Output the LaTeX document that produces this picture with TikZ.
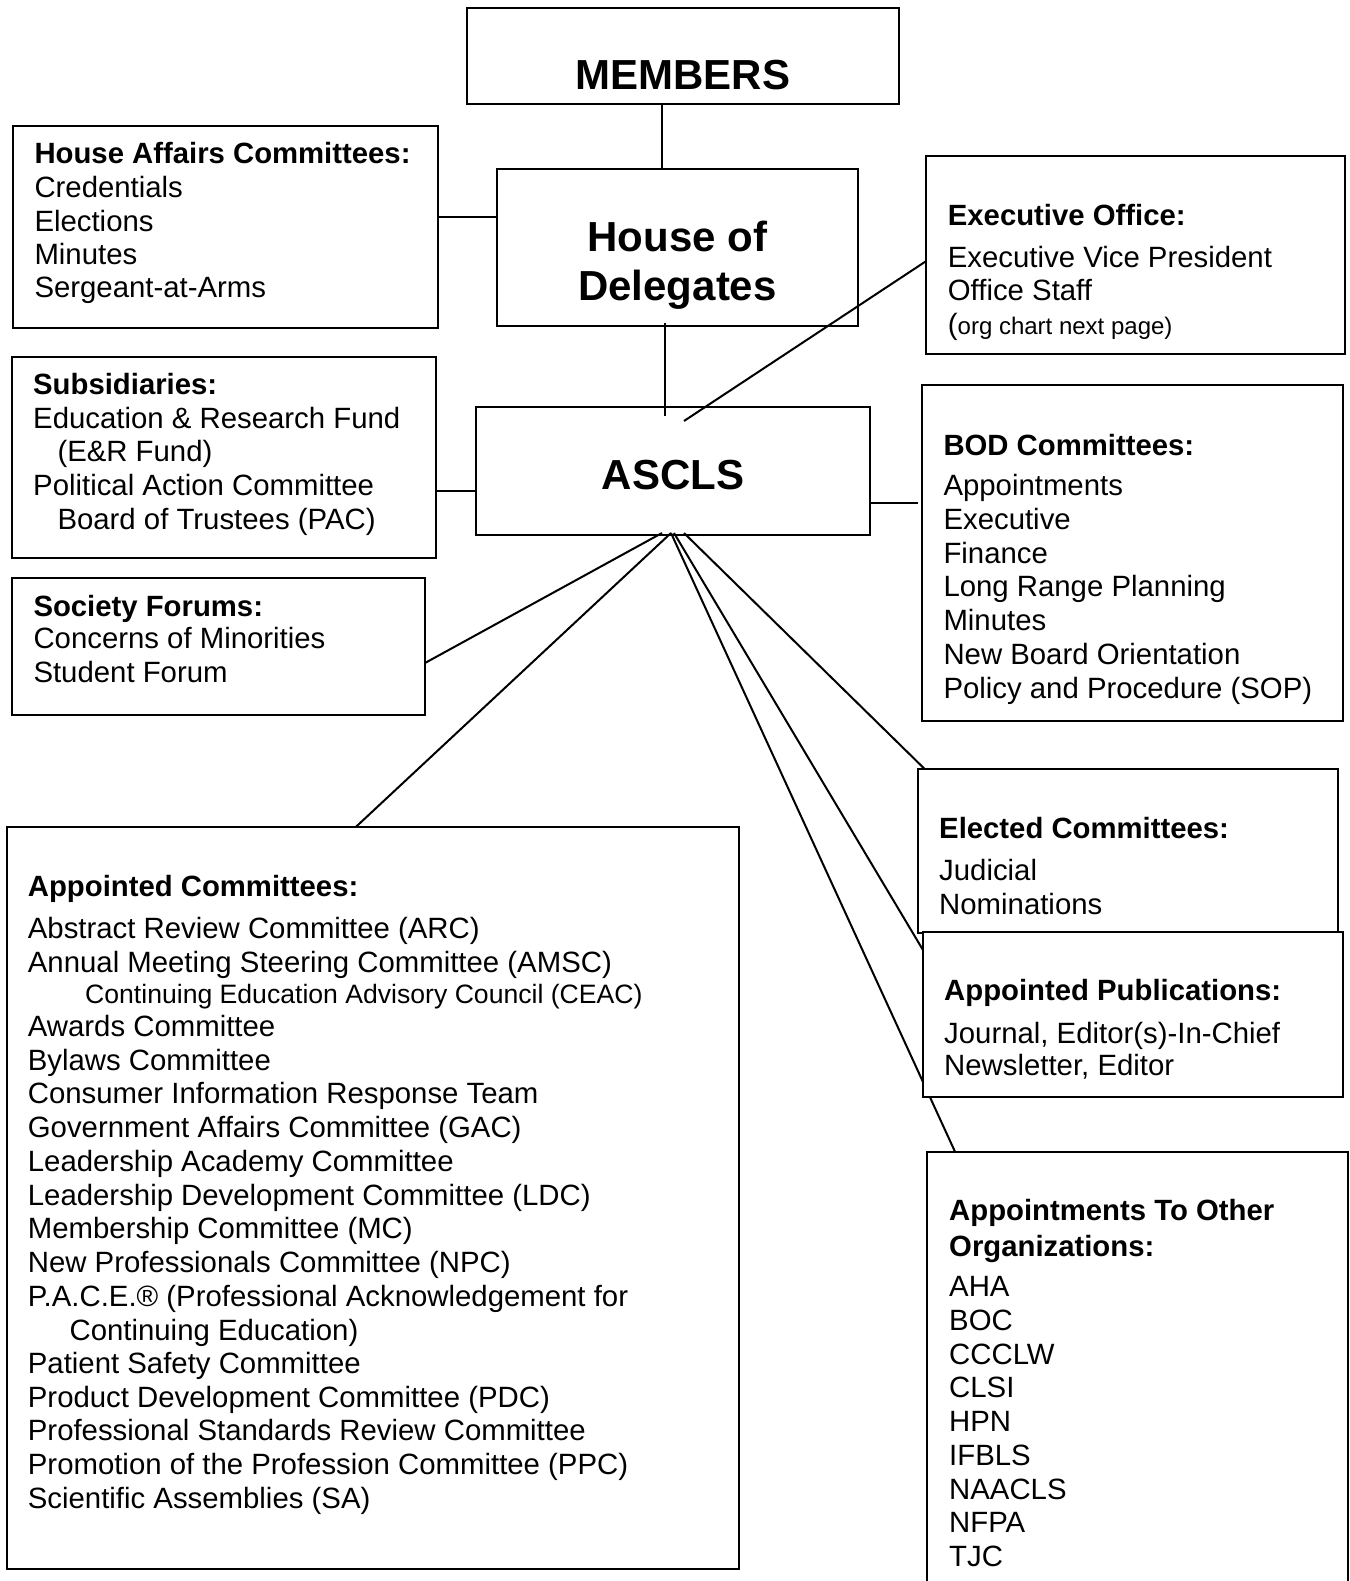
\documentclass[tikz,border=0pt]{standalone}
\usepackage{fontspec}
\setmainfont{Liberation Sans}
\begin{document}
\begin{tikzpicture}[x=1pt,y=-1pt,
  box/.style={draw, line width=2pt, inner sep=0pt, outer sep=0pt, anchor=north west},
  wbox/.style={box, fill=white},
  txt/.style={inner sep=0pt, anchor=base west, font=\fontsize{29.35}{33}\selectfont},
  hdr/.style={inner sep=0pt, anchor=base west, font=\fontsize{29.3}{33}\selectfont\bfseries},
  big/.style={inner sep=0pt, anchor=base, font=\fontsize{42}{48}\selectfont\bfseries},
  conn/.style={line width=2pt}]
\useasboundingbox (0,0) rectangle (1349,1581);

% ---- boxes (plain) ----
\node[box, minimum width=432.2pt, minimum height=95.7pt] (members) at (466.8,7.9) {};
\node[box, minimum width=360.5pt, minimum height=157.1pt] (hod) at (497,168.6) {};
\node[box, minimum width=394.7pt, minimum height=128pt] (ascls) at (475.7,407) {};
\node[box, minimum width=424.4pt, minimum height=201.5pt] (ha) at (13.3,126) {};
\node[box, minimum width=424pt, minimum height=201pt] (subs) at (11.7,357) {};
\node[box, minimum width=412.7pt, minimum height=136.3pt] (sf) at (12.3,578.4) {};
\node[box, minimum width=731.8pt, minimum height=742.2pt] (ac) at (7.2,826.8) {};
\node[box, minimum width=418.7pt, minimum height=197.9pt] (exec) at (926.3,155.8) {};
\node[box, minimum width=420.7pt, minimum height=336pt] (bod) at (922,385.3) {};

% ---- connector end points ----
\coordinate (m1) at (662,103.6);
\coordinate (h1) at (664.6,323);
\coordinate (h2) at (664.6,416);
\coordinate (e1) at (926.3,261);
\coordinate (e2) at (684,421);
\coordinate (b1) at (918,503);
\coordinate (p1) at (662,533);
\coordinate (p2) at (671,533);
\coordinate (p3) at (674,533);
\coordinate (p4) at (684,533);
\coordinate (q1) at (425,663);
\coordinate (q2) at (356,826.8);
\coordinate (q3) at (924,951.7);
\coordinate (q4) at (955,1151.7);
\coordinate (q5) at (925,769.3);

% ---- connectors ----
\draw[conn] (m1) -- (m1 |- hod.north);
\draw[conn] (ha.east |- 0,216.7) -- (hod.west |- 0,216.7);
\draw[conn] (h1) -- (h2);
\draw[conn] (e1) -- (e2);
\draw[conn] (subs.east |- 0,490.6) -- (ascls.west |- 0,490.6);
\draw[conn] (ascls.east |- b1) -- (b1);
\draw[conn] (p1) -- (q1);
\draw[conn] (p2) -- (q2);
\draw[conn] (p3) -- (q3);
\draw[conn] (p2) -- (q4);
\draw[conn] (p4) -- (q5);

% ---- boxes drawn over connectors ----
\node[wbox, minimum width=420pt, minimum height=163.7pt] (elected) at (917.7,769.3) {};
\node[wbox, minimum width=420.6pt, minimum height=165pt] (aptpub) at (922.7,931.7) {};
\node[inner sep=0pt, outer sep=0pt, anchor=north west, minimum width=420.4pt, minimum height=429.3pt] (aoo) at (927.3,1151.7) {};
\draw[line width=2pt] (aoo.south west) -- (aoo.north west) -- (aoo.north east) -- (aoo.south east);

% ---- big titles ----
\node[big] (t-members) at (683,89.3) {MEMBERS};
\node[big] (t-hod1) at (677.5,251.8) {House of};
\node[big] (t-hod2) at (677.5,300) {Delegates};
\node[big] (t-ascls) at (673,489) {ASCLS};

% ---- House Affairs ----
\node[hdr] (ha-h) at (34.3,163.4) {House Affairs Committees:};
\foreach \t [count=\i] in {Credentials,Elections,Minutes,Sergeant-at-Arms}
  \node[txt] (ha-\i) at (34.3,197.7+33.4*\i-33.4) {\t};

% ---- Subsidiaries ----
\node[hdr] (subs-h) at (33,394.6) {Subsidiaries:};
\node[txt] (subs-1) at (33,428) {Education \& Research Fund};
\node[txt] (subs-2) at (57.3,461.8) {(E\&R Fund)};
\node[txt] (subs-3) at (33,495.4) {Political Action Committee};
\node[txt] (subs-4) at (57.3,529) {Board of Trustees (PAC)};

% ---- Society Forums ----
\node[hdr] (sf-h) at (33.3,616) {Society Forums:};
\node[txt] (sf-1) at (33.3,648.3) {Concerns of Minorities};
\node[txt] (sf-2) at (33.3,682) {Student Forum};

% ---- Appointed Committees ----
\node[hdr] (ac-h) at (27.7,896.7) {Appointed Committees:};
\node[txt] (ac-1) at (27.7,938) {Abstract Review Committee (ARC)};
\node[txt] (ac-2) at (27.7,972) {Annual Meeting Steering Committee (AMSC)};
\node[txt, font=\fontsize{26.6}{30}\selectfont] (ac-3) at (85,1003.5) {Continuing Education Advisory Council (CEAC)};
\foreach \t [count=\i] in {Awards Committee,Bylaws Committee,Consumer Information Response Team,
  Government Affairs Committee (GAC),Leadership Academy Committee,Leadership Development Committee (LDC),
  Membership Committee (MC),New Professionals Committee (NPC),
  P.A.C.E.® (Professional Acknowledgement for}
  \node[txt] (ac-l\i) at (27.7,1036.5+33.7*\i-33.7) {\t};
\node[txt] (ac-ce) at (69.4,1340.4) {Continuing Education)};
\foreach \t [count=\i] in {Patient Safety Committee,Product Development Committee (PDC),
  Professional Standards Review Committee,Promotion of the Profession Committee (PPC),Scientific Assemblies (SA)}
  \node[txt] (ac-m\i) at (27.7,1373.4+33.7*\i-33.7) {\t};

% ---- Executive Office ----
\node[hdr] (ex-h) at (947.7,225.8) {Executive Office:};
\node[txt] (ex-1) at (947.7,267.2) {Executive Vice President};
\node[txt] (ex-2) at (947.7,300) {Office Staff};
\node[txt] (ex-3) at (947.7,334.9) {(\fontsize{24}{28}\selectfont org chart next page)};

% ---- BOD ----
\node[hdr] (bod-h) at (943.3,455.3) {BOD Committees:};
\foreach \t [count=\i] in {Appointments,Executive,Finance,Long Range Planning,Minutes,New Board Orientation,Policy and Procedure (SOP)}
  \node[txt] (bod-\i) at (943.3,495.5+33.75*\i-33.75) {\t};

% ---- Elected ----
\node[hdr] (el-h) at (939,838.7) {Elected Committees:};
\node[txt] (el-1) at (939,880.7) {Judicial};
\node[txt] (el-2) at (939,914) {Nominations};

% ---- Appointed Publications ----
\node[hdr] (ap-h) at (944,1000.7) {Appointed Publications:};
\node[txt] (ap-1) at (944,1043) {Journal, Editor(s)-In-Chief};
\node[txt] (ap-2) at (944,1075) {Newsletter, Editor};

% ---- Appointments To Other Organizations ----
\node[hdr] (ao-h1) at (949,1220.7) {Appointments To Other};
\node[hdr] (ao-h2) at (949,1256) {Organizations:};
\foreach \t [count=\i] in {AHA,BOC,CCCLW,CLSI,HPN,IFBLS,NAACLS,NFPA,TJC}
  \node[txt] (ao-\i) at (949,1296.7+33.75*\i-33.75) {\t};
\end{tikzpicture}
\end{document}
